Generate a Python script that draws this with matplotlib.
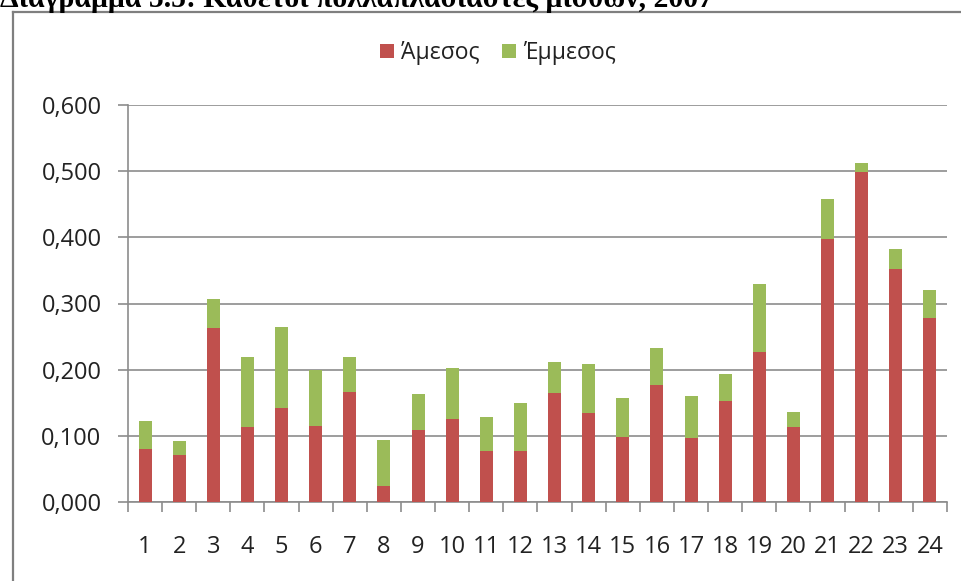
import matplotlib
matplotlib.use("Agg")
import matplotlib.pyplot as plt
import numpy as np
from matplotlib.lines import Line2D
from matplotlib.ticker import FuncFormatter

# sectors 1..24
sectors = [str(i) for i in range(1, 25)]

# direct and indirect multipliers
direct = [0.080, 0.071, 0.263, 0.113, 0.142, 0.115, 0.167, 0.024,
          0.109, 0.126, 0.077, 0.077, 0.164, 0.135, 0.098, 0.177,
          0.096, 0.152, 0.227, 0.113, 0.398, 0.499, 0.352, 0.278]
total = [0.122, 0.092, 0.307, 0.219, 0.264, 0.200, 0.219, 0.093,
         0.163, 0.202, 0.128, 0.150, 0.212, 0.208, 0.157, 0.233,
         0.160, 0.194, 0.330, 0.136, 0.458, 0.513, 0.382, 0.320]
indirect = [t - d for t, d in zip(total, direct)]

yticks = [0.0, 0.1, 0.2, 0.3, 0.4, 0.5, 0.6]

RED = "#C0504D"
GREEN = "#9BBB59"
GRID = "#8C8C8C"

plt.rcParams['font.family'] = ['Open Sans', 'DejaVu Sans']

W, H = 962, 581
fig = plt.figure(figsize=(W / 100, H / 100), dpi=100)
ax = fig.add_axes([128 / W, 1 - 502 / H, (947 - 128) / W, (502 - 105) / H])

x = np.arange(len(sectors))
ax.bar(x, direct, width=0.38, color=RED, label="Άμεσος", zorder=3)
ax.bar(x, indirect, width=0.38, bottom=direct, color=GREEN, label="Έμμεσος", zorder=3)

ax.set_xlim(-0.5, len(sectors) - 0.5)
ax.set_ylim(0, 0.6)
ax.set_yticks(yticks)
ax.yaxis.set_major_formatter(FuncFormatter(lambda v, p: f"{v:.3f}".replace(".", ",")))
ax.yaxis.grid(True, color=GRID, linewidth=1.2, zorder=0)

# ticks between categories, labels at centres
ax.set_xticks(np.arange(-0.5, len(sectors)), minor=False)
ax.set_xticklabels([])
ax.set_xticks(x, minor=True)
ax.set_xticklabels(sectors, minor=True)
ax.tick_params(axis='x', which='major', length=7, width=1.2, color=GRID, direction='out')
ax.tick_params(axis='x', which='minor', length=0, pad=24, labelsize=17, labelcolor='#222222')
ax.tick_params(axis='y', length=7, width=1.2, color=GRID, pad=12, labelsize=17, labelcolor='#222222')

for s in ['top', 'right']:
    ax.spines[s].set_visible(False)
for s in ['left', 'bottom']:
    ax.spines[s].set_color(GRID)
    ax.spines[s].set_linewidth(1.2)

fig.legend(loc='center', bbox_to_anchor=(498 / W, 1 - 53 / H), ncol=2, frameon=False,
           fontsize=16.5, handlelength=0.6, handleheight=0.6, handletextpad=0.3,
           columnspacing=1.0, labelcolor='#222222')

# outer chart frame (only the top and left edges fall inside the image)
fig.add_artist(Line2D([13 / W, 1], [1 - 12 / H, 1 - 12 / H], color='#7F7F7F', linewidth=1.6))
fig.add_artist(Line2D([13 / W, 13 / W], [0, 1 - 12 / H], color='#7F7F7F', linewidth=1.6))

# caption of the page, cut off at the top edge as in the scan
fig.text(0 / W, 1 - 7 / H, "Διάγραμμα 5.5: Κάθετοι πολλαπλασιαστές μισθών, 2007",
         family='Liberation Serif', fontweight='bold', fontsize=21.4, va='baseline', ha='left')

fig.savefig("out.png", dpi=100)
